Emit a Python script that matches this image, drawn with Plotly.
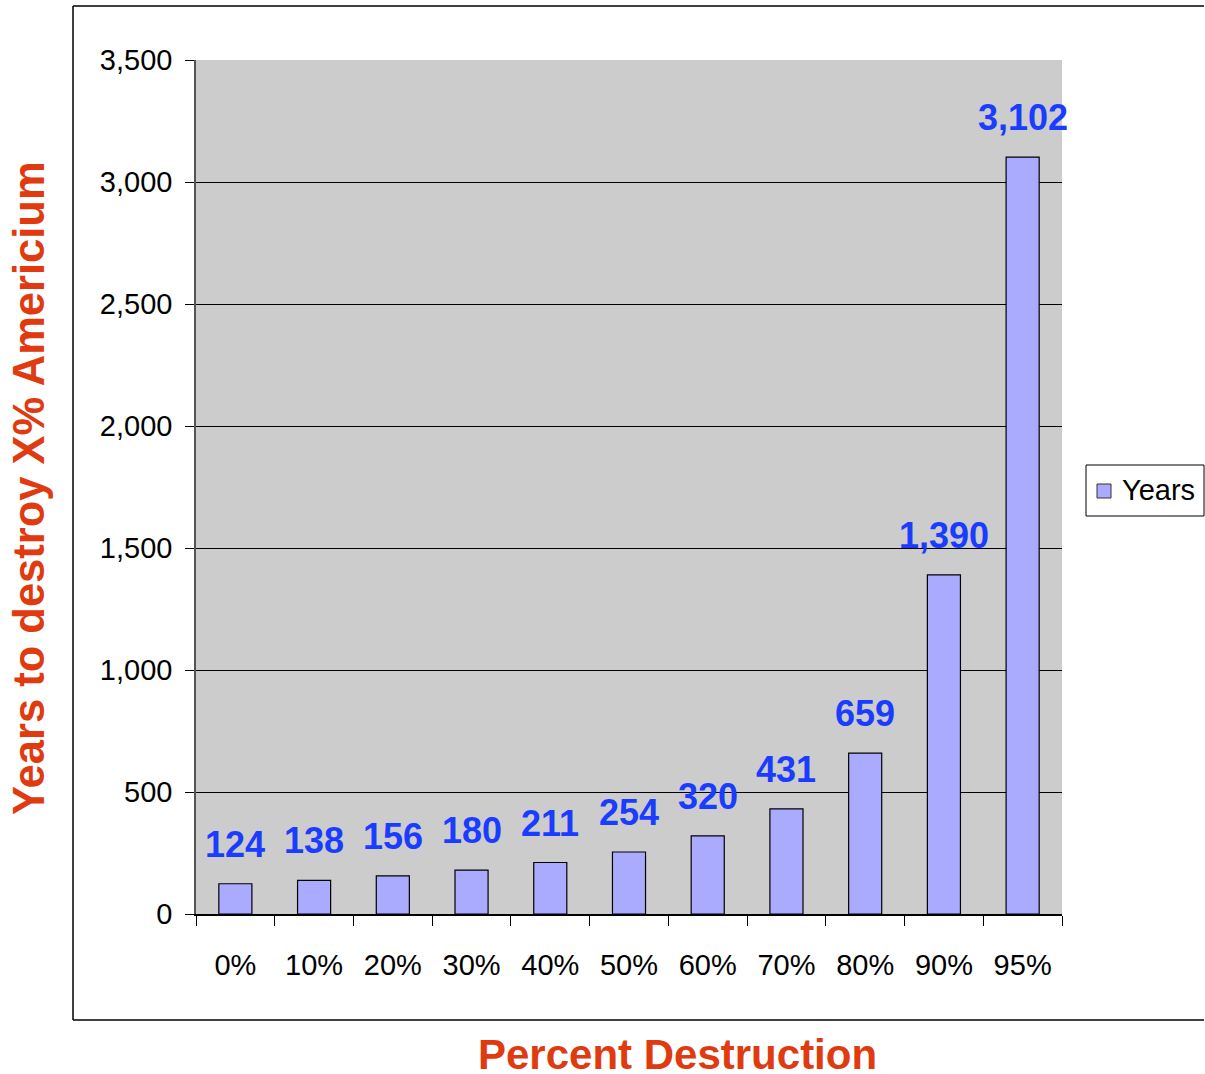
import plotly.graph_objects as go

categories = ["0%", "10%", "20%", "30%", "40%", "50%", "60%", "70%", "80%", "90%", "95%"]
years = [124, 138, 156, 180, 211, 254, 320, 431, 659, 1390, 3102]
label_text = ["124", "138", "156", "180", "211", "254", "320", "431", "659", "1,390", "3,102"]
y_tickvals = [0, 500, 1000, 1500, 2000, 2500, 3000, 3500]
y_ticktext = ["0", "500", "1,000", "1,500", "2,000", "2,500", "3,000", "3,500"]
series_name = "Years"
x_title = "Percent Destruction"
y_title = "Years to destroy X% Americium"

W, H = 1205, 1074
L, R, T, B = 196, 143, 60, 160
PW, PH = W - L - R, H - T - B
BAR_COLOR = "#AAAAFF"


def px_x(x):
    return (x - L) / PW


def px_y(y):
    return (H - B - y) / PH


fig = go.Figure()
fig.add_trace(go.Bar(
    x=categories, y=years, name=series_name,
    marker=dict(color=BAR_COLOR, line=dict(color="#000000", width=1.2)),
    width=0.42, showlegend=False,
))

annotations = []
for c, v, t in zip(categories, years, label_text):
    annotations.append(dict(
        x=c, y=v, text=t, xref="x", yref="y", showarrow=False,
        yanchor="bottom", yshift=17,
        font=dict(family="Liberation Sans, Arial", size=36,
                  color="#1A3CFF", weight="bold"),
    ))

title_font = dict(family="Liberation Sans, Arial", size=42, color="#E03A10", weight="bold")
annotations.append(dict(
    x=px_x(677), y=px_y(1054), xref="paper", yref="paper", text=x_title,
    showarrow=False, xanchor="center", yanchor="middle", font=title_font,
))
annotations.append(dict(
    x=px_x(29), y=px_y(488), xref="paper", yref="paper", text=y_title,
    showarrow=False, xanchor="center", yanchor="middle", textangle=-90,
    font=dict(family="Liberation Sans, Arial", size=43.5, color="#E03A10", weight="bold"),
))
# legend text
annotations.append(dict(
    x=px_x(1120), y=px_y(490), xref="paper", yref="paper", text=series_name,
    showarrow=False, xanchor="left", yanchor="middle",
    font=dict(family="Liberation Sans, Arial", size=29, color="#000000"),
))

frame = dict(color="#000000", width=1.5)
shapes = [
    dict(type="line", xref="paper", yref="paper", x0=px_x(73), x1=px_x(73),
         y0=px_y(1020), y1=px_y(6), line=frame, layer="below"),
    dict(type="line", xref="paper", yref="paper", x0=px_x(73), x1=px_x(1204),
         y0=px_y(6), y1=px_y(6), line=frame, layer="below"),
    dict(type="line", xref="paper", yref="paper", x0=px_x(73), x1=px_x(1204),
         y0=px_y(1020), y1=px_y(1020), line=frame, layer="below"),
    # legend box and key
    dict(type="rect", xref="paper", yref="paper", x0=px_x(1086), x1=px_x(1204),
         y0=px_y(516), y1=px_y(465), line=dict(color="#000000", width=1),
         fillcolor="white", layer="above"),
    dict(type="rect", xref="paper", yref="paper", x0=px_x(1097), x1=px_x(1111),
         y0=px_y(498), y1=px_y(484), line=dict(color="#333333", width=1),
         fillcolor=BAR_COLOR, layer="above"),
]

fig.update_layout(
    width=W, height=H,
    margin=dict(l=L, r=R, t=T, b=B),
    paper_bgcolor="white", plot_bgcolor="#CCCCCC",
    font=dict(family="Liberation Sans, Arial", size=29, color="#000000"),
    annotations=annotations,
    showlegend=False,
    shapes=shapes,
)
fig.update_xaxes(
    type="category", range=[-0.5, len(categories) - 0.5],
    showline=True, linecolor="#000000", linewidth=1.5,
    ticks="outside", tickson="boundaries", ticklen=10, tickcolor="#000000",
    ticklabelstandoff=24, tickfont=dict(size=29),
)
fig.update_yaxes(
    range=[0, 3500], tickvals=y_tickvals, ticktext=y_ticktext,
    showline=True, linecolor="#555555", linewidth=1.5,
    ticks="outside", ticklen=9, tickcolor="#000000",
    ticklabelstandoff=7,
    showgrid=True, gridcolor="#000000", gridwidth=1,
    zeroline=False, tickfont=dict(size=29),
)

fig.write_html(
    "out.html",
    config={"displayModeBar": False},
    post_script="document.body.style.margin='0px';"
                "document.body.style.overflow='hidden';",
)
